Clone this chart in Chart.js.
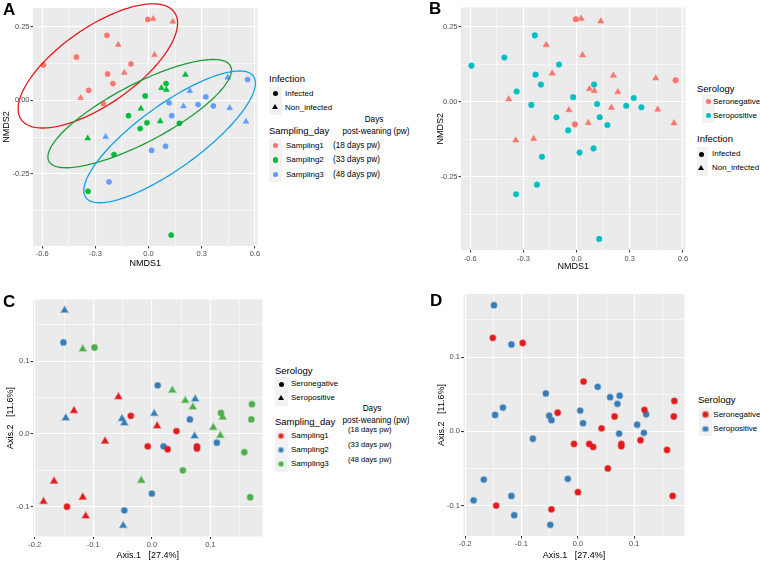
<!DOCTYPE html>
<html><head><meta charset="utf-8">
<script src="https://cdn.jsdelivr.net/npm/chart.js@4/dist/chart.umd.min.js"></script>
<style>
body{margin:0;background:#fff;width:760px;height:564px;position:relative;overflow:hidden;font-family:"Liberation Sans",Arial,Helvetica,sans-serif;}
canvas{position:absolute;}
.t{position:absolute;white-space:nowrap;color:#000;line-height:1;transform:translateY(-50%);}
.c{transform:translate(-50%,-50%);}
.k{position:absolute;background:#F2F2F2;}
.s{position:absolute;}
.L{position:absolute;font-weight:bold;font-size:17px;line-height:1;transform:translateY(-50%);}
</style></head><body>
<canvas id="cA" width="262" height="272" style="left:0;top:0"></canvas>
<canvas id="cB" width="258" height="280" style="left:432px;top:0"></canvas>
<canvas id="cC" width="268" height="284" style="left:0;top:280px"></canvas>
<canvas id="cD" width="258" height="284" style="left:432px;top:280px"></canvas>
<div id="legends"></div>
<script>
// ---------- DATA ----------
// NMDS ordination (panels A and B), 45 samples
const nmdsSampling = ['Sampling1','Sampling1','Sampling1','Sampling1','Sampling1','Sampling1','Sampling1','Sampling1','Sampling1','Sampling1','Sampling1','Sampling1','Sampling1','Sampling1','Sampling1',
 'Sampling2','Sampling2','Sampling2','Sampling2','Sampling2','Sampling2','Sampling2','Sampling2','Sampling2','Sampling2','Sampling2','Sampling2','Sampling2','Sampling2','Sampling2',
 'Sampling3','Sampling3','Sampling3','Sampling3','Sampling3','Sampling3','Sampling3','Sampling3','Sampling3','Sampling3','Sampling3','Sampling3','Sampling3','Sampling3','Sampling3'];
const nmds1 = [-0.004,0.026,0.137,-0.235,-0.171,-0.407,0.034,-0.593,-0.099,-0.231,-0.137,-0.201,-0.338,-0.383,-0.255,
 0.208,0.099,0.073,0.101,-0.019,-0.043,-0.113,-0.047,-0.009,0.066,0.174,-0.343,-0.195,-0.341,0.128,
 0.447,0.559,0.233,0.323,0.116,0.280,0.197,0.366,0.458,0.131,0.550,-0.242,0.096,0.017,-0.223];
const nmds2 = [0.275,0.277,0.268,0.221,0.189,0.147,0.155,0.120,0.124,0.090,0.094,0.057,0.034,0.008,-0.011,
 0.087,0.057,0.042,0.036,0.015,-0.028,-0.052,-0.096,-0.076,-0.071,-0.078,-0.129,-0.184,-0.309,-0.458,
 0.078,0.071,0.032,0.012,-0.008,-0.014,-0.020,-0.019,-0.026,-0.052,-0.072,-0.124,-0.156,-0.170,-0.277];
const nmdsInfection = ['I','N','N','I','N','I','N','I','I','I','N','I','I','N','I',
 'N','I','N','N','I','N','I','I','I','N','I','N','I','I','I',
 'N','I','N','I','I','I','N','I','N','I','N','N','I','I','I'];
const nmdsSerology = ['neg','neg','neg','pos','neg','pos','neg','pos','pos','pos','neg','pos','pos','neg','pos',
 'neg','pos','neg','neg','pos','neg','pos','pos','neg','neg','pos','neg','pos','pos','pos',
 'neg','neg','neg','pos','pos','pos','neg','pos','neg','pos','neg','neg','pos','pos','pos'];
// PCoA ordination (panels C and D)
const pcoaSampling = nmdsSampling.slice();
const pcoa1 = [-0.057,-0.133,-0.036,0.009,0.042,-0.080,-0.007,0.027,0.077,0.077,-0.167,-0.185,-0.118,-0.145,-0.113,
 -0.149,-0.151,0.010,0.074,-0.147,-0.051,-0.047,0.004,0.065,0.073,0.111,0.020,0.000,-0.047,-0.049,
 -0.118,-0.098,0.035,0.057,0.070,0.118,0.121,0.105,0.117,0.171,0.170,0.158,0.053,-0.018,0.168];
const pcoa2 = [0.051,0.032,0.025,0.011,0.004,-0.010,-0.017,-0.021,-0.017,-0.020,-0.065,-0.093,-0.087,-0.100,-0.113,
 0.170,0.126,0.067,0.048,0.022,0.021,0.015,0.028,0.020,-0.003,-0.012,-0.017,-0.082,-0.105,-0.126,
 0.117,0.119,0.060,0.046,0.037,0.029,0.023,0.009,-0.002,0.041,0.020,-0.025,-0.050,-0.064,-0.087];
const pcoaSerology = ['pos','pos','neg','pos','neg','pos','neg','neg','neg','neg','pos','pos','pos','neg','pos',
 'pos','neg','neg','pos','pos','pos','pos','pos','neg','pos','neg','neg','neg','neg','pos',
 'pos','neg','pos','pos','pos','neg','pos','pos','pos','neg','neg','neg','neg','pos','neg'];
// ellipses (panel A, stat_ellipse per sampling day): centre, half-extents, correlation
const ellipseGroups = ['Sampling1','Sampling2','Sampling3'];
const ellipseCx = [-0.286,-0.050,0.119];
const ellipseCy = [0.117,-0.045,-0.124];
const ellipseRx = [0.450,0.518,0.484];
const ellipseRy = [0.211,0.184,0.224];
const ellipseRho = [0.69,0.80,0.814];
// ticks
const nmdsXTicks = [-0.6,-0.3,0.0,0.3,0.6], nmdsXMinor = [-0.45,-0.15,0.15,0.45];
const nmdsYTicks = [-0.25,0.0,0.25], nmdsYMinor = [-0.375,-0.125,0.125];
const pcoaXTicks = [-0.2,-0.1,0.0,0.1], pcoaXMinor = [-0.15,-0.05,0.05,0.15];
const pcoaYTicks = [-0.1,0.0,0.1], pcoaYMinor = [-0.05,0.05,0.15];

// ---------- STYLE ----------
const FAM = '"Liberation Sans", Arial, Helvetica, sans-serif';
Chart.defaults.font.family = FAM;
const colA = {Sampling1:'#F8766D', Sampling2:'#00BA38', Sampling3:'#619CFF'};
const colB = {neg:'#F8766D', pos:'#00BFC4'};
const colC = {Sampling1:'#E41A1C', Sampling2:'#377EB8', Sampling3:'#4DAF4A'};
const colD = {neg:'#E41A1C', pos:'#377EB8'};
const ellipseColors = ['#E8191D','#1E9E3A','#13A2E0'];

function rgba(hex,a){const n=parseInt(hex.slice(1),16);return `rgba(${n>>16},${(n>>8)&255},${n&255},${a})`;}
const near=(arr,v)=>arr.some(m=>Math.abs(m-v)<1e-9);

const bgPlugin={id:'panelBg',beforeDraw(chart){const {ctx,chartArea:a}=chart;ctx.save();ctx.fillStyle='#EBEBEB';ctx.fillRect(a.left,a.top,a.right-a.left,a.bottom-a.top);ctx.restore();}};
const ellipsePlugin={id:'ellipses',afterDatasetsDraw(chart){
  const xs=chart.scales.x,ys=chart.scales.y,ctx=chart.ctx;ctx.save();
  for(let k=0;k<ellipseGroups.length;k++){
    ctx.beginPath();
    for(let i=0;i<=160;i++){const t=i/160*2*Math.PI;const r=ellipseRho[k];
      const dx=ellipseRx[k]*Math.cos(t), dy=ellipseRy[k]*(r*Math.cos(t)+Math.sqrt(1-r*r)*Math.sin(t));
      const px=xs.getPixelForValue(ellipseCx[k]+dx), py=ys.getPixelForValue(ellipseCy[k]+dy);
      if(i) ctx.lineTo(px,py); else ctx.moveTo(px,py);}
    ctx.closePath();ctx.strokeStyle=ellipseColors[k];ctx.lineWidth=1.3;ctx.stroke();
  }
  ctx.restore();}};

function axis(o){
  return {type:'linear',min:o.min,max:o.max,
    afterBuildTicks:ax=>{ax.ticks=o.major.concat(o.minor).sort((a,b)=>a-b).map(v=>({value:v}));},
    afterFit:ax=>{if(o.isX) ax.height=o.fit; else ax.width=o.fit;},
    border:{display:false},
    grid:{color:'#FFFFFF',lineWidth:c=>near(o.major,c.tick.value)?1.1:0.55,drawTicks:true,tickLength:2.5,
      tickColor:c=>near(o.major,c.tick.value)?'#333333':'rgba(0,0,0,0)',tickWidth:1},
    ticks:{autoSkip:false,maxRotation:0,minRotation:0,padding:o.tpad,color:'#4D4D4D',font:{size:7.5,family:FAM},
      callback:v=>near(o.major,v)?Number(v).toFixed(o.dec):''},
    title:{display:true,text:o.title,color:'#000',font:{size:9,family:FAM},padding:o.titlePad}
  };
}

function makeChart(id,datasets,xo,yo,pad,plugins){
  return new Chart(document.getElementById(id),{type:'scatter',data:{datasets},
    options:{responsive:false,animation:false,events:[],layout:{padding:pad},
      plugins:{legend:{display:false},tooltip:{enabled:false}},
      scales:{x:axis(xo),y:axis(yo)}},
    plugins:[bgPlugin].concat(plugins||[])});
}

function pts(xs,ys,filter){const out=[];for(let i=0;i<xs.length;i++) if(filter(i)) out.push({x:xs[i],y:ys[i]});return out;}

const NX={min:-0.652,max:0.615,major:nmdsXTicks,minor:nmdsXMinor,dec:1,isX:true};
const NY={min:-0.495,max:0.314,major:nmdsYTicks,minor:nmdsYMinor,dec:2,isX:false};
const PX={min:-0.203,max:0.189,major:pcoaXTicks,minor:pcoaXMinor,dec:1,isX:true};
const PY={min:-0.141,max:0.185,major:pcoaYTicks,minor:pcoaYMinor,dec:1,isX:false};

// Panel A
const dsA=[];
ellipseGroups.forEach(g=>{
  [['I','circle',2.6],['N','triangle',3.4]].forEach(([inf,shape,r])=>{
    dsA.push({data:pts(nmds1,nmds2,i=>nmdsSampling[i]===g&&nmdsInfection[i]===inf),pointStyle:shape,pointRadius:r,
      backgroundColor:colA[g],borderColor:colA[g],borderWidth:0.5});
  });
});
makeChart('cA',dsA,Object.assign({},NX,{fit:26,tpad:1,title:'NMDS1',titlePad:{top:0,bottom:2.6}}),
  Object.assign({},NY,{fit:33,tpad:1,title:'NMDS2',titlePad:{top:1.6,bottom:0}}),{left:0,top:8,right:4,bottom:0},[ellipsePlugin]);

// Panel B
const dsB=[];
['neg','pos'].forEach(s=>{
  [['I','circle',2.8],['N','triangle',3.6]].forEach(([inf,shape,r])=>{
    dsB.push({data:pts(nmds1,nmds2,i=>nmdsSerology[i]===s&&nmdsInfection[i]===inf),pointStyle:shape,pointRadius:r,
      backgroundColor:colB[s],borderColor:colB[s],borderWidth:0.5});
  });
});
makeChart('cB',dsB,Object.assign({},NX,{fit:30,tpad:1.5,title:'NMDS1',titlePad:{top:0,bottom:7.6}}),
  Object.assign({},NY,{fit:29,tpad:1,title:'NMDS2',titlePad:{top:3.6,bottom:0}}),{left:0,top:7.5,right:4,bottom:0});

// Panel C
const dsC=[];
ellipseGroups.forEach(g=>{
  [['neg','circle',2.9],['pos','triangle',3.9]].forEach(([s,shape,r])=>{
    dsC.push({data:pts(pcoa1,pcoa2,i=>pcoaSampling[i]===g&&pcoaSerology[i]===s),pointStyle:shape,pointRadius:r,
      backgroundColor:colC[g],borderColor:rgba(colC[g],0.45),borderWidth:1.5});
  });
});
makeChart('cC',dsC,Object.assign({},PX,{fit:27.5,tpad:1,title:'Axis.1   [27.4%]',titlePad:{top:0,bottom:2.9}}),
  Object.assign({},PY,{fit:33,tpad:1,title:'Axis.2   [11.6%]',titlePad:{top:5.6,bottom:0}}),{left:0,top:19.5,right:3.5,bottom:0});

// Panel D
const dsD=[];
['neg','pos'].forEach(s=>{
  dsD.push({data:pts(pcoa1,pcoa2,i=>pcoaSerology[i]===s),pointStyle:'circle',pointRadius:2.9,
    backgroundColor:colD[s],borderColor:rgba(colD[s],0.45),borderWidth:1.5});
});
makeChart('cD',dsD,Object.assign({},PX,{fit:28,tpad:1,title:'Axis.1   [27.4%]',titlePad:{top:0,bottom:2.6}}),
  Object.assign({},PY,{fit:31.5,tpad:1,title:'Axis.2   [11.6%]',titlePad:{top:4.6,bottom:0}}),{left:0,top:14,right:3,bottom:0});

// ---------- LEGENDS (HTML text) ----------
const L=document.getElementById('legends');
function txt(x,y,s,size,center){const d=document.createElement('div');d.className='t'+(center?' c':'');d.style.left=x+'px';d.style.top=y+'px';d.style.fontSize=size+'px';d.textContent=s;L.appendChild(d);}
function key(x,y,w,h){const d=document.createElement('div');d.className='k';Object.assign(d.style,{left:x+'px',top:y+'px',width:w+'px',height:h+'px'});L.appendChild(d);}
function dot(cx,cy,d,col,ring){const e=document.createElement('div');e.className='s';Object.assign(e.style,{left:(cx-d/2)+'px',top:(cy-d/2)+'px',width:d+'px',height:d+'px',borderRadius:'50%',background:col});if(ring){e.style.boxShadow='0 0 0 1.2px '+ring;}L.appendChild(e);}
function tri(cx,cy,w,col){const h=w*0.87;const e=document.createElement('div');e.className='s';Object.assign(e.style,{left:(cx-w/2)+'px',top:(cy-h*2/3)+'px',width:0,height:0,borderLeft:(w/2)+'px solid transparent',borderRight:(w/2)+'px solid transparent',borderBottom:h+'px solid '+col});L.appendChild(e);}
function letter(x,y,s){const d=document.createElement('div');d.className='L';d.style.left=x+'px';d.style.top=y+'px';d.textContent=s;L.appendChild(d);}

letter(3,9,'A');letter(429,8,'B');letter(3,301,'C');letter(430,300,'D');

// Legend A
txt(269,79,'Infection',9.5);
key(269,86.5,13,28);
dot(275.5,93.5,5,'#000');txt(285,93.5,'Infected',8);
tri(275.5,107.5,6.5,'#000');txt(285,107.5,'Non_infected',8);
txt(269,131,'Sampling_day',9.5);
txt(374,120,'Days',8.2,true);txt(376,132,'post-weaning (pw)',8.2,true);
key(269,138.5,13,43);
const aRows=[145.5,160,174.5];
['Sampling1','Sampling2','Sampling3'].forEach((g,i)=>{dot(275.5,aRows[i],5.5,colA[g]);txt(286,aRows[i],g,8);});
txt(333,aRows[0],'(18 days pw)',8.2);txt(333,aRows[1],'(33 days pw)',8.2);txt(333,aRows[2],'(48 days pw)',8.2);

// Legend B
txt(697,89,'Serology',9.5);
key(702,94.5,13,28.5);
dot(708.3,101.7,5.5,colB.neg);txt(713,101.7,'Seronegative',8);
dot(708.3,115.7,5.5,colB.pos);txt(713,115.7,'Seropositive',8);
txt(697,138.5,'Infection',9.5);
key(697,147,11,28.5);
dot(701,154.3,5,'#000');txt(712,154.3,'Infected',8);
tri(701,168.3,6.5,'#000');txt(712,168.3,'Non_infected',8);

// Legend C
txt(275,370.7,'Serology',9.5);
key(275,377,13,28.5);
dot(281.7,384.3,5,'#000');txt(291,384.3,'Seronegative',8);
tri(281.7,398.3,6.5,'#000');txt(291,398.3,'Seropositive',8);
txt(275,422,'Sampling_day',9.5);
txt(372,409,'Days',8.2,true);txt(376,421,'post-weaning (pw)',8.2,true);
key(275,429,13,42.5);
const cRows=[436,450,464];
['Sampling1','Sampling2','Sampling3'].forEach((g,i)=>{dot(281,cRows[i],4.5,colC[g],rgba(colC[g],0.45));txt(291,cRows[i],g,8);});
txt(348,430,'(18 days pw)',7.6);txt(348,445,'(33 days pw)',7.6);txt(348,459.5,'(48 days pw)',7.6);

// Legend D
txt(698,399.5,'Serology',9.5);
key(699,407.5,13,28.5);
dot(705.7,414.7,4.5,colD.neg,rgba(colD.neg,0.45));txt(713.3,414.7,'Seronegative',8);
dot(705.7,429,4.5,colD.pos,rgba(colD.pos,0.45));txt(713.3,429,'Seropositive',8);
</script>
</body></html>
